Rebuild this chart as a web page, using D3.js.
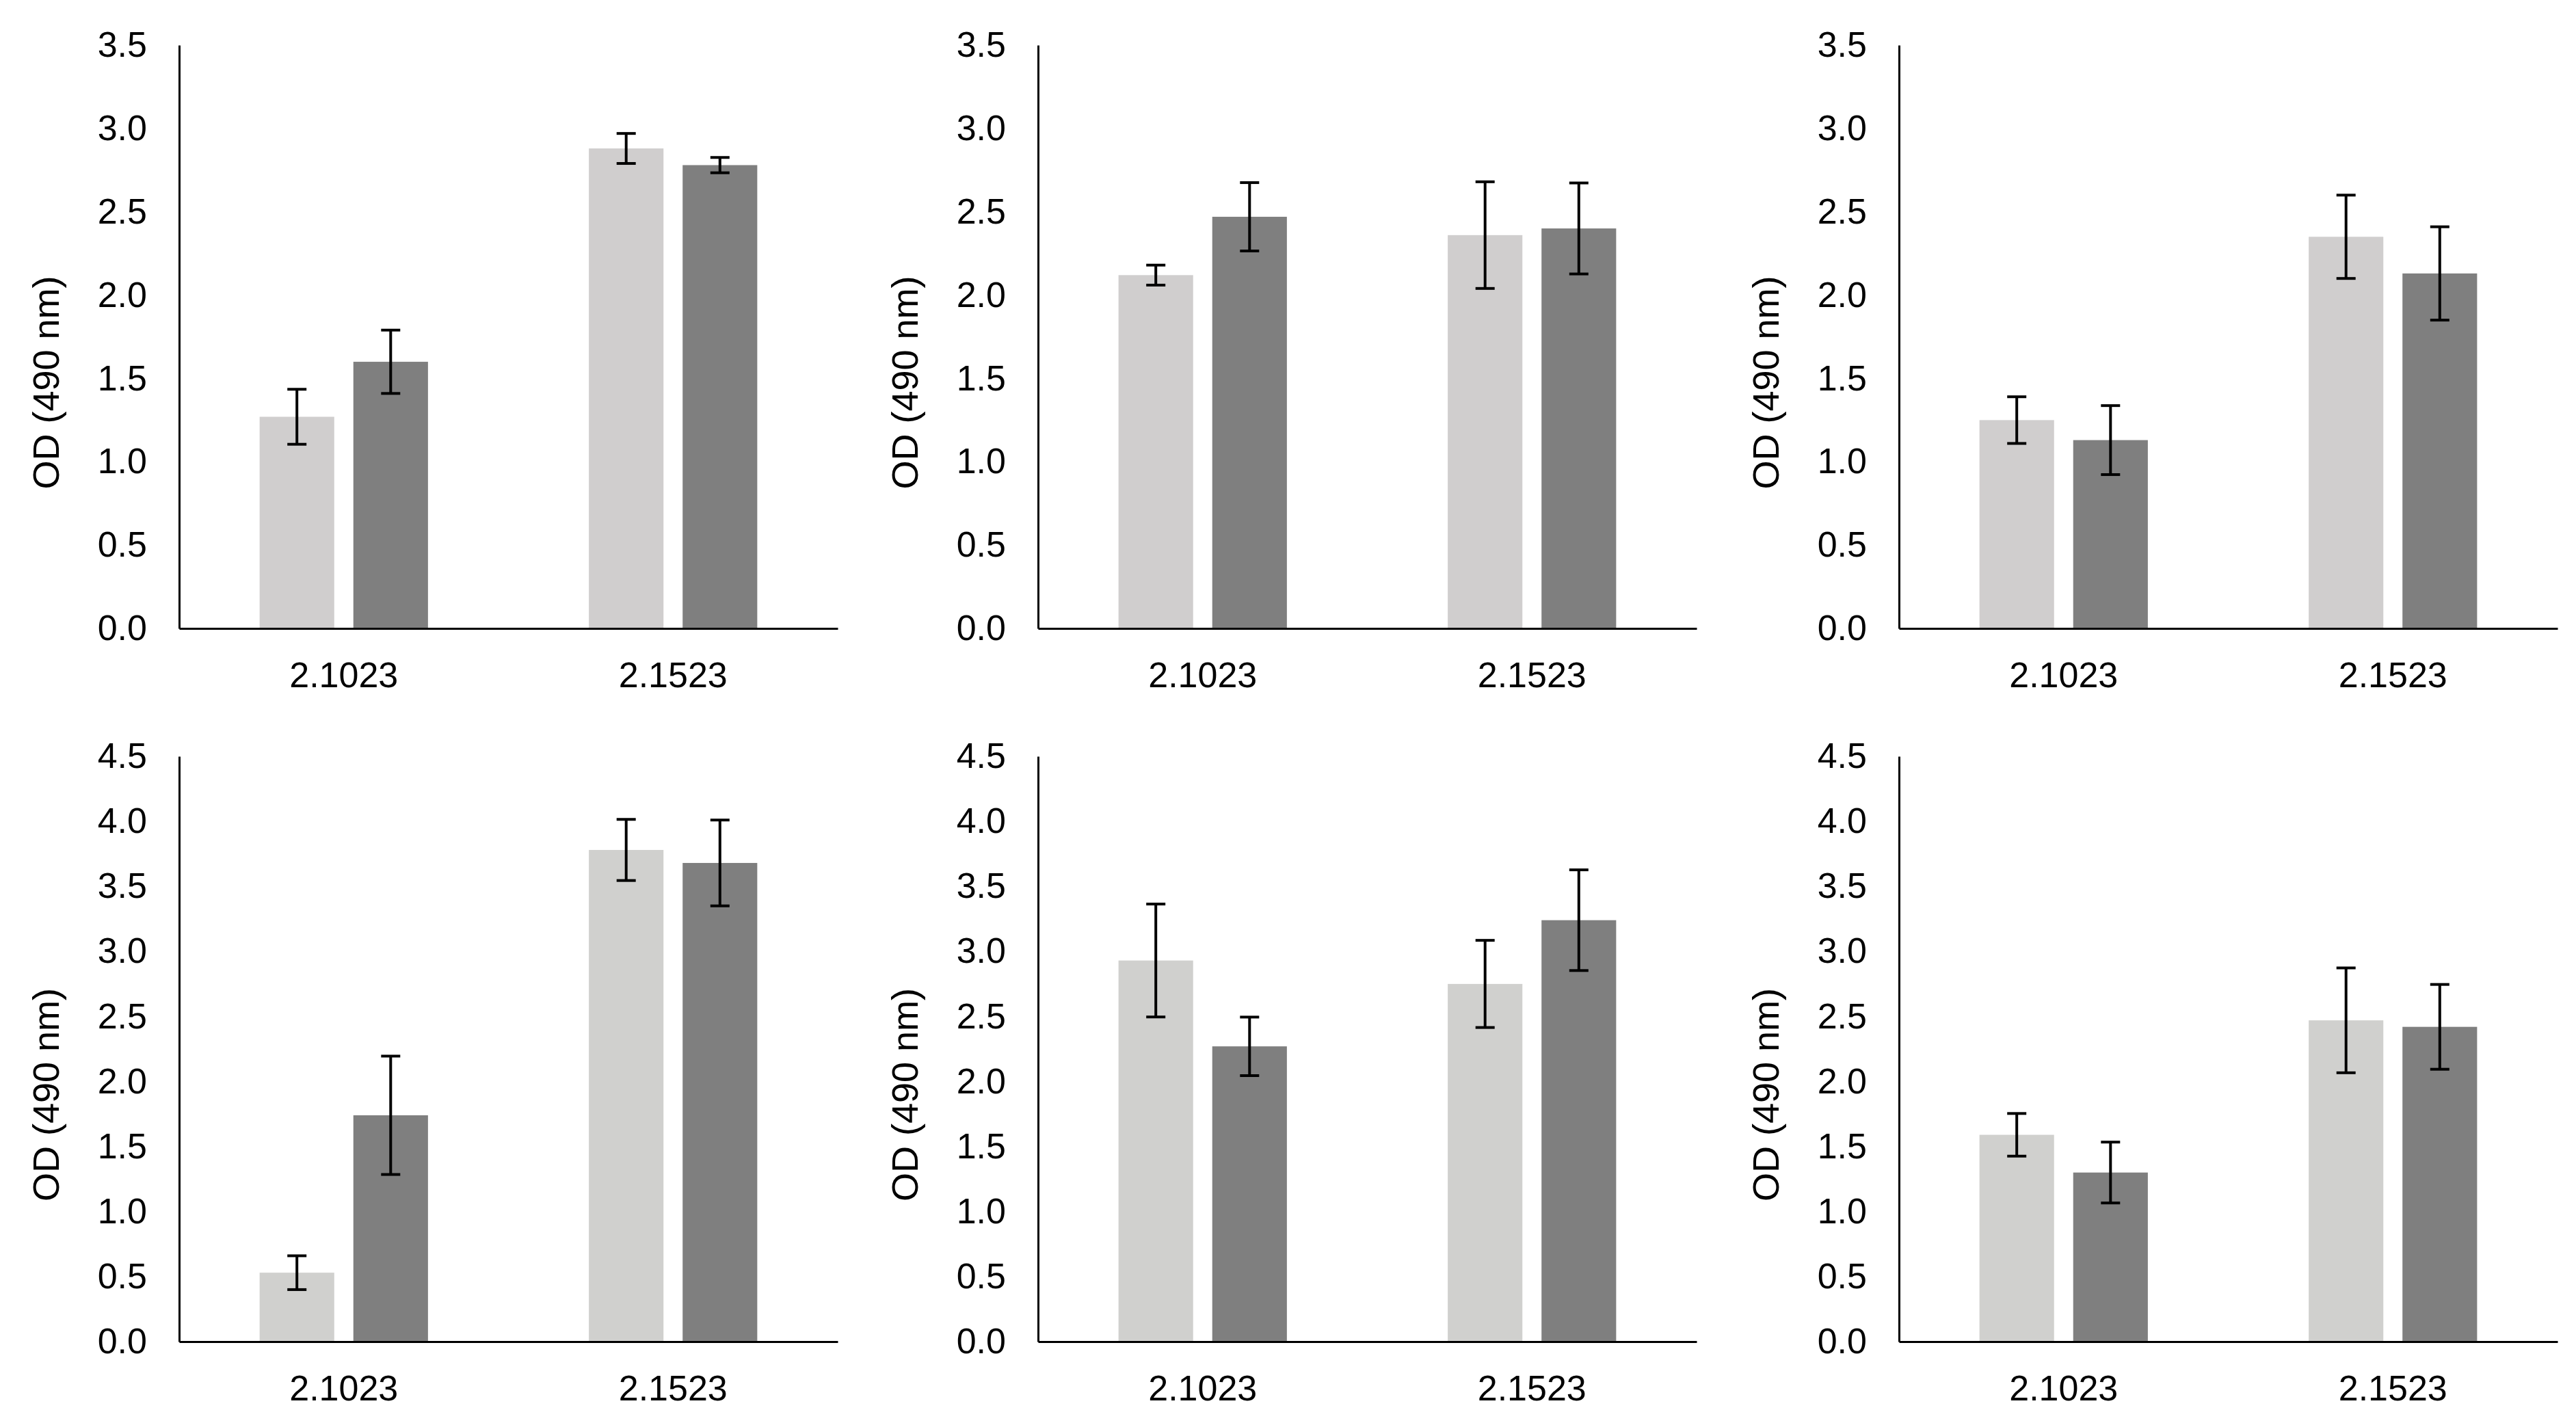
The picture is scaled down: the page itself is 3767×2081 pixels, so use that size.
<!DOCTYPE html>
<html>
<head>
<meta charset="utf-8">
<script src="https://cdn.jsdelivr.net/npm/d3@7"></script>
<style>
body{margin:0;background:#fff;}
svg{display:block;}
</style>
</head>
<body>
<div id="chart"></div>
<script>
// categories and series values, one entry per panel (row 1 then row 2)
var categories = ["2.1023", "2.1523"];
var seriesKeys = ["light", "dark"];
var meansLight = [[1.27, 2.88], [2.12, 2.36], [1.25, 2.35], [0.53, 3.78], [2.93, 2.75], [1.59, 2.47]];
var meansDark  = [[1.60, 2.78], [2.47, 2.40], [1.13, 2.13], [1.74, 3.68], [2.27, 3.24], [1.30, 2.42]];
var errLight   = [[0.165, 0.09], [0.06, 0.32], [0.14, 0.25], [0.13, 0.235], [0.434, 0.335], [0.164, 0.403]];
var errDark    = [[0.19, 0.046], [0.205, 0.273], [0.207, 0.28], [0.455, 0.33], [0.225, 0.387], [0.234, 0.326]];
var ticksTop = [0, 0.5, 1.0, 1.5, 2.0, 2.5, 3.0, 3.5];
var ticksBottom = [0, 0.5, 1.0, 1.5, 2.0, 2.5, 3.0, 3.5, 4.0, 4.5];
var yTitle = "OD (490 nm)";

var W = 3767, H = 2081;
var colLeft = [262, 1518, 2777];
var plotW = 963;
var rowTop = [66, 1106];
var rowBottom = [919, 1962];
var lightColor = ["#D0CECE", "#D0D0CE"];
var darkColor = "#7F7F7F";
var fontFamily = "'Liberation Sans', Arial, sans-serif";

var svg = d3.select('#chart')
	.append('svg')
	.attr("width", W)
	.attr("height", H)
	.attr("viewBox", "0 0 " + W + " " + H);

for (var p = 0; p < 6; p++) {
	var row = Math.floor(p / 3), col = p % 3;
	var plotH = rowBottom[row] - rowTop[row];
	var ticks = row == 0 ? ticksTop : ticksBottom;

	var g = svg.append('g')
		.attr("transform", "translate(" + colLeft[col] + "," + rowTop[row] + ")");

	var x0 = d3.scaleBand().domain(categories).range([0, plotW]);
	var x1 = d3.scaleBand().domain(seriesKeys).range([0, x0.bandwidth()])
		.paddingInner(0.204).paddingOuter(0.858);
	var y = d3.scaleLinear().domain([0, ticks[ticks.length - 1]]).range([plotH, 0]);

	var data = [];
	categories.forEach(function(c, i){
		data.push({cat: c, key: "light", v: meansLight[p][i], e: errLight[p][i]});
		data.push({cat: c, key: "dark", v: meansDark[p][i], e: errDark[p][i]});
	});

	// bars
	g.selectAll('rect.bar')
		.data(data)
		.enter()
		.append('rect')
		.attr("class", "bar")
		.attr("x", function(d){ return x0(d.cat) + x1(d.key); })
		.attr("y", function(d){ return y(d.v); })
		.attr("width", x1.bandwidth())
		.attr("height", function(d){ return plotH - y(d.v); })
		.attr("fill", function(d){ return d.key == "light" ? lightColor[row] : darkColor; });

	// error bars
	var capW = 28;
	var eb = g.selectAll('g.err')
		.data(data)
		.enter()
		.append('g')
		.attr("class", "err")
		.attr("stroke", "#000")
		.attr("stroke-width", 4);
	eb.append('line')
		.attr("x1", function(d){ return x0(d.cat) + x1(d.key) + x1.bandwidth() / 2; })
		.attr("x2", function(d){ return x0(d.cat) + x1(d.key) + x1.bandwidth() / 2; })
		.attr("y1", function(d){ return y(d.v + d.e); })
		.attr("y2", function(d){ return y(d.v - d.e); });
	eb.append('line')
		.attr("x1", function(d){ return x0(d.cat) + x1(d.key) + x1.bandwidth() / 2 - capW / 2; })
		.attr("x2", function(d){ return x0(d.cat) + x1(d.key) + x1.bandwidth() / 2 + capW / 2; })
		.attr("y1", function(d){ return y(d.v + d.e); })
		.attr("y2", function(d){ return y(d.v + d.e); });
	eb.append('line')
		.attr("x1", function(d){ return x0(d.cat) + x1(d.key) + x1.bandwidth() / 2 - capW / 2; })
		.attr("x2", function(d){ return x0(d.cat) + x1(d.key) + x1.bandwidth() / 2 + capW / 2; })
		.attr("y1", function(d){ return y(d.v - d.e); })
		.attr("y2", function(d){ return y(d.v - d.e); });

	// y axis
	var yAxis = g.append('g')
		.call(d3.axisLeft(y).tickValues(ticks).tickFormat(d3.format(".1f")).tickSize(0).tickPadding(47));
	// x axis
	var xAxis = g.append('g')
		.attr("transform", "translate(0," + plotH + ")")
		.call(d3.axisBottom(x0).tickSize(0).tickPadding(49));

	[yAxis, xAxis].forEach(function(a){
		a.select('.domain').attr("stroke", "#000").attr("stroke-width", 3);
		a.selectAll('text')
			.attr("fill", "#000")
			.style("font-family", fontFamily)
			.style("font-size", "52px");
	});

	// y axis title
	g.append('text')
		.attr("transform", "translate(-195," + (plotH / 2 + 67) + ") rotate(-90)")
		.attr("text-anchor", "middle")
		.attr("dominant-baseline", "central")
		.attr("fill", "#000")
		.style("font-family", fontFamily)
		.style("font-size", "54px")
		.text(yTitle);
}
</script>
</body>
</html>
